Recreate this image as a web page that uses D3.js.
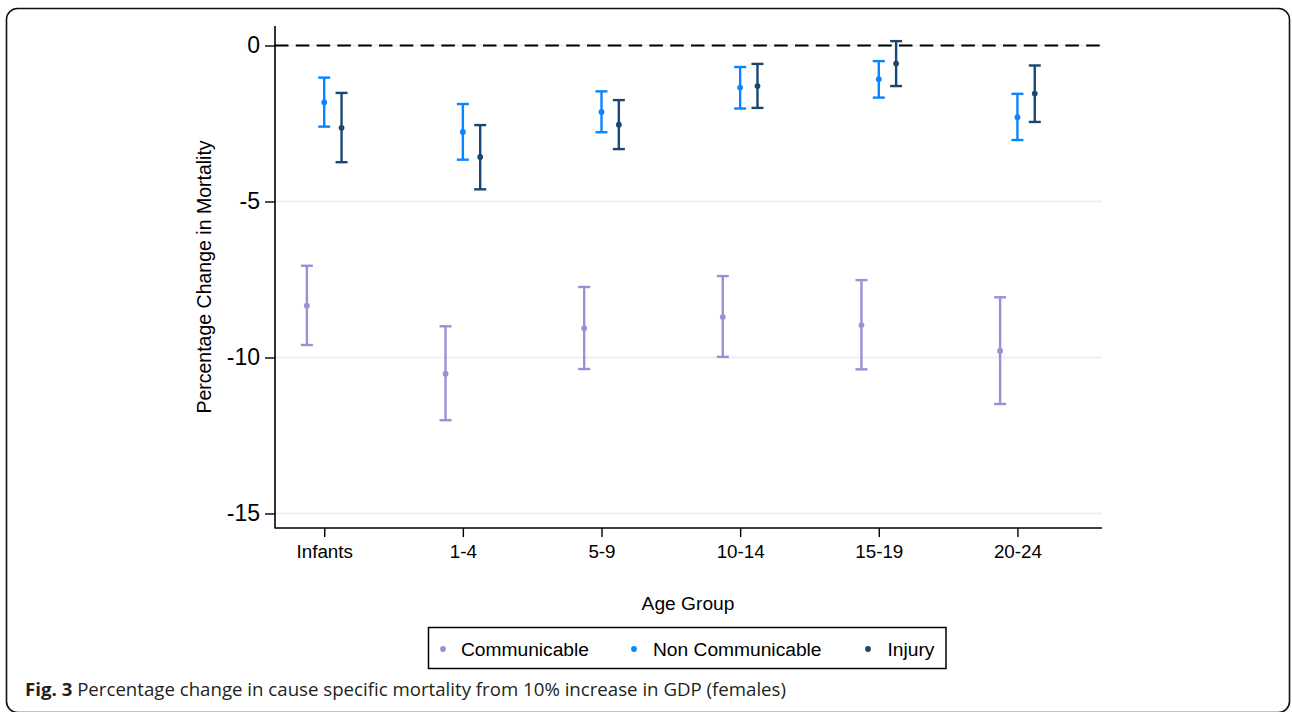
<!DOCTYPE html>
<html>
<head>
<meta charset="utf-8">
<script src="https://cdn.jsdelivr.net/npm/d3@7"></script>
<style>
html,body{margin:0;padding:0;background:#fff;}
svg{display:block;}
</style>
</head>
<body>
<svg id="chart" width="1292" height="712"></svg>
<script>
// ---- data ----
const categories = ["Infants", "1-4", "5-9", "10-14", "15-19", "20-24"];
const seriesNames = ["Communicable", "Non Communicable", "Injury"];
const seriesColors = ["#9a90d6", "#0a84ff", "#1a476f"];
const seriesOffsets = [-0.125, 0, 0.125];
// point estimates
const communicableEst = [-8.34, -10.52, -9.06, -8.70, -8.96, -9.79];
const nonCommunicableEst = [-1.82, -2.77, -2.13, -1.35, -1.08, -2.30];
const injuryEst = [-2.64, -3.57, -2.54, -1.30, -0.58, -1.54];
// 95% CI bounds
const communicableLo = [-9.60, -12.01, -10.37, -9.98, -10.38, -11.49];
const communicableHi = [-7.06, -9.00, -7.74, -7.39, -7.52, -8.07];
const nonCommunicableLo = [-2.60, -3.66, -2.78, -2.02, -1.67, -3.03];
const nonCommunicableHi = [-1.03, -1.875, -1.47, -0.69, -0.50, -1.55];
const injuryLo = [-3.74, -4.61, -3.32, -2.00, -1.30, -2.45];
const injuryHi = [-1.52, -2.55, -1.75, -0.59, 0.14, -0.64];
const yTicks = [0, -5, -10, -15];
const xTitle = "Age Group";
const yTitle = "Percentage Change in Mortality";
const captionBold = "Fig. 3";
const captionText = " Percentage change in cause specific mortality from 10% increase in GDP (females)";

const estimates = [communicableEst, nonCommunicableEst, injuryEst];
const lows = [communicableLo, nonCommunicableLo, injuryLo];
const highs = [communicableHi, nonCommunicableHi, injuryHi];

const svg = d3.select("#chart");
const font = "'Liberation Sans', Arial, Helvetica, sans-serif";

// outer frame
svg.append("rect")
  .attr("x", 6.5).attr("y", 8.5).attr("width", 1283).attr("height", 704)
  .attr("rx", 11).attr("ry", 11)
  .attr("fill", "none").attr("stroke", "#111").attr("stroke-width", 1.6);

const plot = {left: 275, right: 1102, top: 26, bottom: 528};

const x = d3.scaleLinear().domain([0.645, 6.61]).range([plot.left, plot.right]);
const y = d3.scaleLinear().domain([0.625, -15.465]).range([plot.top, plot.bottom]);

// gridlines
svg.append("g").selectAll("line").data(yTicks).join("line")
  .attr("x1", plot.left).attr("x2", plot.right)
  .attr("y1", d => y(d)).attr("y2", d => y(d))
  .attr("stroke", "#eaf2f3").attr("stroke-width", 2);

// dashed zero line
svg.append("line")
  .attr("x1", plot.left).attr("x2", plot.right)
  .attr("y1", y(0)).attr("y2", y(0))
  .attr("stroke", "#000").attr("stroke-width", 2.2)
  .attr("stroke-dasharray", "13.5,7.3");

// y axis
const yAxis = d3.axisLeft(y).tickValues(yTicks).tickSize(10).tickPadding(5).tickFormat(d3.format("d"));
const gy = svg.append("g").attr("transform", `translate(${plot.left},0)`).call(yAxis);
gy.select(".domain").remove();
gy.append("line").attr("x1", 0).attr("x2", 0).attr("y1", plot.top).attr("y2", plot.bottom + 0.5)
  .attr("stroke", "#000").attr("stroke-width", 1.6);
gy.selectAll(".tick line").attr("stroke", "#000").attr("stroke-width", 1.4);
gy.selectAll(".tick text").attr("font-family", font).attr("font-size", 23).attr("fill", "#000")
  .text(d => d < 0 ? "-" + Math.abs(d) : d);

// x axis
const xAxis = d3.axisBottom(x).tickValues(d3.range(1, categories.length + 1))
  .tickFormat(d => categories[d - 1]).tickSize(9).tickPadding(8);
const gx = svg.append("g").attr("transform", `translate(0,${plot.bottom})`).call(xAxis);
gx.select(".domain").remove();
gx.append("line").attr("x1", plot.left).attr("x2", plot.right).attr("y1", 0).attr("y2", 0)
  .attr("stroke", "#000").attr("stroke-width", 1.6);
gx.selectAll(".tick line").attr("stroke", "#000").attr("stroke-width", 1.4);
gx.selectAll(".tick text").attr("font-family", font).attr("font-size", 18.8).attr("fill", "#000");

// error bars + points
const capHalf = 6;
estimates.forEach((est, s) => {
  const g = svg.append("g");
  const data = est.map((v, i) => ({xv: i + 1 + seriesOffsets[s], v, lo: lows[s][i], hi: highs[s][i]}));
  const bars = g.selectAll("g").data(data).join("g");
  bars.append("line")
    .attr("x1", d => x(d.xv)).attr("x2", d => x(d.xv))
    .attr("y1", d => y(d.hi)).attr("y2", d => y(d.lo))
    .attr("stroke", seriesColors[s]).attr("stroke-width", 2.4);
  bars.append("line")
    .attr("x1", d => x(d.xv) - capHalf).attr("x2", d => x(d.xv) + capHalf)
    .attr("y1", d => y(d.hi)).attr("y2", d => y(d.hi))
    .attr("stroke", seriesColors[s]).attr("stroke-width", 2.4);
  bars.append("line")
    .attr("x1", d => x(d.xv) - capHalf).attr("x2", d => x(d.xv) + capHalf)
    .attr("y1", d => y(d.lo)).attr("y2", d => y(d.lo))
    .attr("stroke", seriesColors[s]).attr("stroke-width", 2.4);
  bars.append("circle")
    .attr("cx", d => x(d.xv)).attr("cy", d => y(d.v)).attr("r", 2.9)
    .attr("fill", seriesColors[s]);
});

// axis titles
svg.append("text").attr("x", 688).attr("y", 610).attr("text-anchor", "middle")
  .attr("font-family", font).attr("font-size", 19.2).attr("fill", "#000").text(xTitle);
svg.append("text").attr("transform", "translate(211,277) rotate(-90)").attr("text-anchor", "middle")
  .attr("font-family", font).attr("font-size", 19.5).attr("fill", "#000").text(yTitle);

// legend
const legend = svg.append("g");
legend.append("rect").attr("x", 428.5).attr("y", 627.5).attr("width", 517.5).attr("height", 41)
  .attr("fill", "#fff").attr("stroke", "#000").attr("stroke-width", 1.5);
const legDotX = [443, 634, 868];
const legTextX = [461, 653, 887.5];
seriesNames.forEach((name, s) => {
  legend.append("circle").attr("cx", legDotX[s]).attr("cy", 649).attr("r", 2.9).attr("fill", seriesColors[s]);
  legend.append("text").attr("x", legTextX[s]).attr("y", 656).attr("font-family", font)
    .attr("font-size", 19.2).attr("fill", "#000").text(name);
});

// caption
const cap = svg.append("text").attr("x", 25).attr("y", 696)
  .attr("font-family", "'Open Sans', 'Noto Sans', sans-serif").attr("font-size", 18).attr("fill", "#231f20");
cap.append("tspan").attr("font-weight", "bold").text(captionBold);
cap.append("tspan").text(captionText);
cap.attr("textLength", 761).attr("lengthAdjust", "spacingAndGlyphs");
</script>
</body>
</html>
